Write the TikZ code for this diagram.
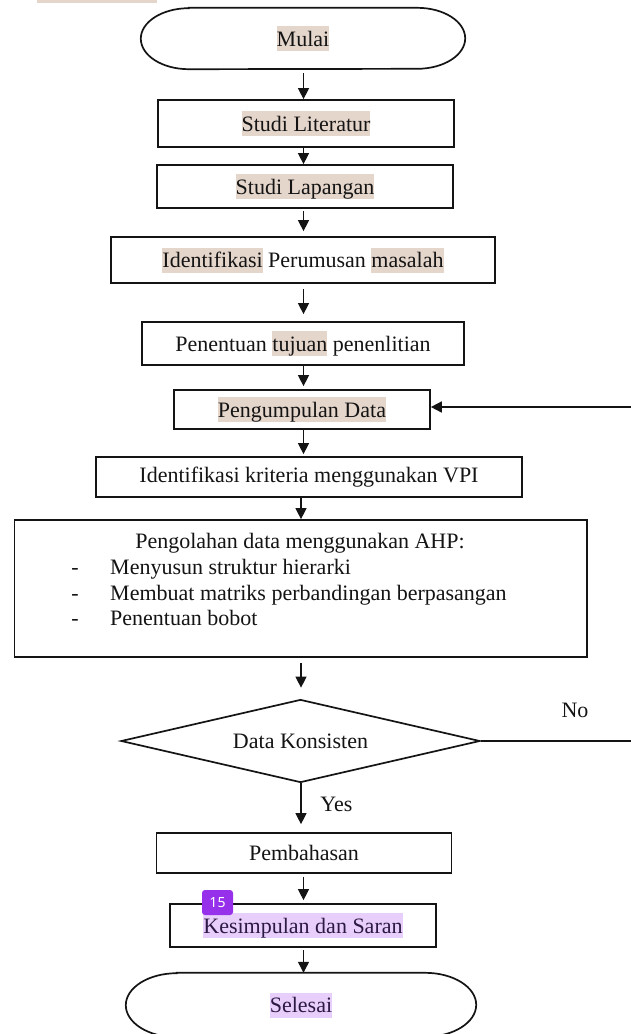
\documentclass[tikz,border=0pt]{standalone}
\usepackage{fontspec}
\setmainfont{Liberation Serif}
\newfontfamily\badgefont{Noto Sans}
\usetikzlibrary{arrows.meta,shapes.geometric,calc}
\definecolor{hlb}{RGB}{229,214,204}
\definecolor{hll}{RGB}{232,206,250}
\definecolor{ink}{RGB}{20,20,20}
\definecolor{inkp}{RGB}{45,25,70}
\definecolor{badgecol}{RGB}{150,48,235}
\newcommand\hlbeige[1]{{\setlength\fboxsep{0pt}\colorbox{hlb}{\rule[-5pt]{0pt}{25pt}#1}}}
\newcommand\hllav[1]{{\setlength\fboxsep{0pt}\colorbox{hll}{\rule[-5pt]{0pt}{25pt}\color{inkp}#1}}}
\tikzset{
  boxnode/.style={draw=ink, line width=1.7pt, rectangle, inner sep=0pt, text=ink,
    font=\fontsize{22}{26}\selectfont},
  termnode/.style={rectangle, inner sep=0pt, text=ink, font=\fontsize{22}{26}\selectfont},
  termline/.style={draw=ink, line width=1.7pt},
  decnode/.style={draw=ink, line width=1.7pt, diamond, inner sep=0pt, text=ink,
    font=\fontsize{22}{26}\selectfont},
  lbl/.style={inner sep=0pt, text=ink, font=\fontsize{22}{26}\selectfont},
  arr/.style={draw=ink, line width=1.1pt, -{Triangle[length=11pt,width=11pt]}},
  plainline/.style={draw=ink, line width=2pt},
  fbarr/.style={draw=ink, line width=1.7pt, -{Triangle[length=11pt,width=11pt]}}
}
\begin{document}
\begin{tikzpicture}[x=1pt,y=1pt]
\useasboundingbox (0,0) rectangle (631,-1034);
\fill[white] (0,0) rectangle (631,-1034);
\fill[hlb] (37,0) rectangle (157,-2.5);

\coordinate (xa) at (303.5,0);
\coordinate (xb) at (301,0);
\coordinate (fb) at (631,-407);
\coordinate (nend) at (631,0);

% start terminal
\node[termnode, minimum width=324pt, minimum height=61pt] (mulai) at (303,-38.5) {\hlbeige{Mulai}};
\draw[termline] ([xshift=48pt]mulai.north west) -- ([xshift=-48pt]mulai.north east)
  arc[start angle=90,end angle=-90,x radius=48pt,y radius=30.5pt]
  -- ([xshift=48pt]mulai.south west)
  arc[start angle=270,end angle=90,x radius=48pt,y radius=30.5pt] -- cycle;

\node[boxnode, minimum width=296pt, minimum height=47pt] (lit) at (306,-123.5) {\hlbeige{Studi Literatur}};
\node[boxnode, minimum width=296pt, minimum height=43pt] (lap) at (305,-186.5) {\hlbeige{Studi Lapangan}};
\node[boxnode, minimum width=384pt, minimum height=46pt] (ident) at (303,-260) {\hlbeige{Identifikasi} Perumusan \hlbeige{masalah}};
\node[boxnode, minimum width=322pt, minimum height=43pt] (pen) at (303,-343.5) {Penentuan \hlbeige{tujuan} penenlitian};
\node[boxnode, minimum width=256pt, minimum height=39pt] (peng) at (302,-409.5) {\hlbeige{Pengumpulan Data}};
\node[boxnode, minimum width=426pt, minimum height=40pt] (vpi) at (309,-477) {Identifikasi kriteria menggunakan VPI};
\node[boxnode, minimum width=572.5pt, minimum height=137pt] (ahp) at (300.75,-588.5) {};
\node[lbl, anchor=base] (t0) at (300,-548) {Pengolahan data menggunakan AHP:};
\node[lbl, anchor=base] (d1) at (75,-574) {-};
\node[lbl, anchor=base west] (i1) at (110,-574) {Menyusun struktur hierarki};
\node[lbl, anchor=base] (d2) at (75,-600) {-};
\node[lbl, anchor=base west] (i2) at (110,-600) {Membuat matriks perbandingan berpasangan};
\node[lbl, anchor=base] (d3) at (75,-625.5) {-};
\node[lbl, anchor=base west] (i3) at (110,-625.5) {Penentuan bobot};

\node[decnode, minimum width=359pt, minimum height=83pt, shape aspect=4.33] (dk) at (300.5,-741) {Data Konsisten};
\node[boxnode, minimum width=295pt, minimum height=40pt] (pemb) at (304,-853) {Pembahasan};
\node[boxnode, minimum width=266pt, minimum height=43pt] (kes) at (303,-925.5) {\hllav{Kesimpulan dan Saran}};

% end terminal
\node[termnode, minimum width=350pt, minimum height=64pt] (sel) at (301,-1005) {\hllav{Selesai}};
\draw[termline] ([xshift=51pt]sel.north west) -- ([xshift=-51pt]sel.north east)
  arc[start angle=90,end angle=-90,x radius=51pt,y radius=32pt]
  -- ([xshift=51pt]sel.south west)
  arc[start angle=270,end angle=90,x radius=51pt,y radius=32pt] -- cycle;

% labels
\node[lbl] (yes) at (336.5,-804) {Yes};
\node[lbl] (no) at (575,-710) {No};

% connectors
\draw[arr, shorten <=4pt] (mulai.south -| xa) -- (lit.north -| xa);
\draw[arr] (lit.south -| xa) -- (lap.north -| xa);
\draw[arr, shorten <=2pt, shorten >=5pt] (lap.south -| xa) -- (ident.north -| xa);
\draw[arr, shorten <=5pt, shorten >=7pt] (ident.south -| xa) -- (pen.north -| xa);
\draw[arr, shorten >=3pt] (pen.south -| xa) -- (peng.north -| xa);
\draw[arr, shorten >=2pt] (peng.south -| xa) -- (vpi.north -| xa);
\draw[arr] (vpi.south -| xb) -- (ahp.north -| xb);
\draw[arr, shorten <=5pt, shorten >=11pt] (ahp.south -| xb) -- (dk.north -| xb);
\draw[arr, shorten >=8pt] (dk.south -| xb) -- (pemb.north -| xb);
\draw[arr, shorten <=3pt, shorten >=3pt] (pemb.south -| xa) -- (kes.north -| xa);
\draw[arr, shorten <=2pt] (kes.south -| xa) -- (sel.north -| xa);
\draw[plainline] (dk.east) -- (dk.east -| nend);
\draw[fbarr] (fb) -- (fb -| peng.east);

% annotation badge
\node[fill=badgecol, rounded corners=3pt, text=white, font=\badgefont\fontsize{14}{16}\selectfont,
  minimum width=31pt, minimum height=25pt, inner sep=0pt] (badge) at (217.5,-902.5) {15};
\end{tikzpicture}
\end{document}
